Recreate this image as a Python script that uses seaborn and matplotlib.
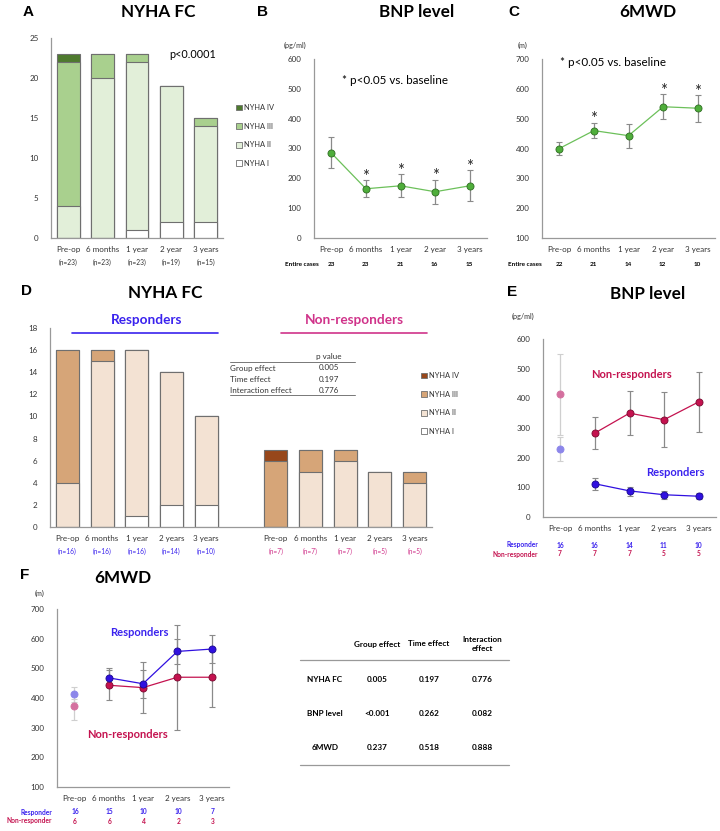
import numpy as np
import pandas as pd
import matplotlib
matplotlib.use("Agg")
import matplotlib.pyplot as plt
from matplotlib.patches import Patch
import seaborn as sns

# ---- data ----
times = ["Pre-op", "6 months", "1 year", "2 year", "3 years"]
times_s = ["Pre-op", "6 months", "1 year", "2 years", "3 years"]

# panel A: NYHA class counts (all patients)
a_n = ["(n=23)", "(n=23)", "(n=23)", "(n=19)", "(n=15)"]
a_nyha1 = [0, 0, 1, 2, 2]
a_nyha2 = [4, 20, 21, 17, 12]
a_nyha3 = [18, 3, 1, 0, 1]
a_nyha4 = [1, 0, 0, 0, 0]

# panel B: BNP (all patients)
b_mean = [285, 165, 175, 155, 175]
b_lo = [235, 137, 137, 113, 125]
b_hi = [337, 193, 213, 196, 227]
b_sig = [False, True, True, True, True]
b_cases = [23, 23, 21, 16, 15]

# panel C: 6MWD (all patients)
c_mean = [400, 460, 443, 540, 535]
c_lo = [378, 435, 403, 500, 490]
c_hi = [423, 487, 483, 583, 580]
c_sig = [False, True, False, True, True]
c_cases = [22, 21, 14, 12, 10]

# panel D: NYHA class counts, responders / non-responders
d_resp_n = ["(n=16)", "(n=16)", "(n=16)", "(n=14)", "(n=10)"]
d_resp1 = [0, 0, 1, 2, 2]
d_resp2 = [4, 15, 15, 12, 8]
d_resp3 = [12, 1, 0, 0, 0]
d_resp4 = [0, 0, 0, 0, 0]
d_non_n = ["(n=7)", "(n=7)", "(n=7)", "(n=5)", "(n=5)"]
d_non1 = [0, 0, 0, 0, 0]
d_non2 = [0, 5, 6, 5, 4]
d_non3 = [6, 2, 1, 0, 1]
d_non4 = [1, 0, 0, 0, 0]
d_pvals = [("Group effect", "0.005"), ("Time effect", "0.197"),
           ("Interaction effect", "0.776")]

# panel E: BNP by group
e_resp_mean = [230, 112, 88, 75, 70]
e_resp_lo = [190, 90, 72, 62, 60]
e_resp_hi = [270, 133, 102, 88, 80]
e_non_mean = [413, 283, 350, 328, 388]
e_non_lo = [277, 230, 277, 235, 288]
e_non_hi = [548, 337, 425, 420, 488]
e_resp_cases = [16, 16, 14, 11, 10]
e_non_cases = [7, 7, 7, 5, 5]

# panel F: 6MWD by group
f_resp_mean = [412, 468, 448, 557, 565]
f_resp_lo = [385, 438, 400, 514, 517]
f_resp_hi = [438, 500, 495, 600, 613]
f_non_mean = [372, 443, 435, 470, 470]
f_non_lo = [325, 393, 348, 293, 370]
f_non_hi = [398, 493, 520, 647, 570]
f_resp_cases = [16, 15, 10, 10, 7]
f_non_cases = [6, 6, 4, 2, 3]

# summary table
tbl_cols = ["Group effect", "Time effect", "Interaction\neffect"]
tbl_rows = ["NYHA FC", "BNP level", "6MWD"]
tbl_vals = [["0.005", "0.197", "0.776"],
            ["<0.001", "0.262", "0.082"],
            ["0.237", "0.518", "0.888"]]

# ---- style ----
sns.set_style("white")
plt.rcParams["font.family"] = ["Lato", "DejaVu Sans"]

W, H = 720, 831
fig = plt.figure(figsize=(W / 100, H / 100), dpi=100)

GREENS = ["#ffffff", "#e2efd9", "#a9d08e", "#4e7a2e"]
BROWNS = ["#ffffff", "#f3e2d3", "#d6a578", "#97471b"]
GREEN_PT, GREEN_EDGE, GREEN_LN = "#4fae3b", "#2f6d22", "#6cc05a"
BLUE, BLUE_LT = "#3010e0", "#8c86ea"
RED, RED_LT = "#c4124f", "#d4709f"
BLUE_TXT, PINK_TXT = "#3a22ee", "#d0338a"
SPINE = "#999999"
TXT = "#333333"
TICK = 5.8


def add_ax(x0, y0, x1, y1):
    return fig.add_axes([x0 / W, 1 - y1 / H, (x1 - x0) / W, (y1 - y0) / H])


def style_ax(ax):
    sns.despine(ax=ax)
    for s in ("left", "bottom"):
        ax.spines[s].set_color(SPINE)
        ax.spines[s].set_linewidth(0.9)
    ax.tick_params(axis="y", labelsize=TICK, colors=TXT, length=3,
                   width=0.7, color=SPINE, pad=6)
    ax.tick_params(axis="x", labelsize=TICK, colors=TXT)
    ax.set_xlabel("")
    ax.set_ylabel("")


def stacked(ax, keys, layers, colors, order):
    # draw cumulative totals from the top class down so the segments overlap
    cum = np.cumsum(np.array(layers), axis=0)
    for i in range(len(layers) - 1, -1, -1):
        df = pd.DataFrame({"k": keys, "v": cum[i]})
        sns.barplot(data=df, x="k", y="v", order=order, color=colors[i],
                    saturation=1, edgecolor="#6f6f6f", linewidth=0.8,
                    width=0.66, ax=ax)


def line_panel(ax, xs, mean, lo, hi, color, edge, lcolor, ecolor="#8a8a8a"):
    mean, lo, hi = np.array(mean), np.array(lo), np.array(hi)
    ax.errorbar(xs, mean, yerr=[mean - lo, hi - mean], fmt="none",
                ecolor=ecolor, elinewidth=0.9, capsize=2, capthick=0.8,
                zorder=2)
    if len(xs) > 1:
        sns.lineplot(x=xs, y=mean, color=lcolor, linewidth=0.9, ax=ax,
                     zorder=3)
    sns.scatterplot(x=xs, y=mean, color=color, edgecolor=edge, s=26,
                    linewidth=0.6, ax=ax, zorder=4)


def cat_xaxis(ax, labels):
    ax.set_xlim(-0.5, 4.5)
    ax.set_xticks(np.arange(-0.5, 5, 1.0))
    ax.set_xticklabels([])
    ax.tick_params(axis="x", which="major", length=3, width=0.7,
                   color=SPINE)
    ax.set_xticks(range(5), minor=True)
    ax.set_xticklabels(labels, minor=True)
    ax.tick_params(axis="x", which="minor", length=0, labelsize=TICK,
                   colors=TXT, pad=6)


def stars(ax, hi, sig):
    for i, s in enumerate(sig):
        if s:
            ax.annotate("*", (i, hi[i]), xytext=(0, 8),
                        textcoords="offset points", ha="center", va="top",
                        fontsize=12)


# overlay for free text in pixel coordinates
ov = fig.add_axes([0, 0, 1, 1], zorder=10)
ov.set_xlim(0, W)
ov.set_ylim(H, 0)
ov.axis("off")


def t(x, y, s, **kw):
    kw.setdefault("ha", "center")
    kw.setdefault("va", "center")
    kw.setdefault("color", "black")
    ov.text(x, y, s, **kw)


def letter(x, y, s):
    t(x, y, s, fontsize=11, fontweight="bold",
      family=["Liberation Sans", "DejaVu Sans"])


def title(x, y, s):
    t(x, y, s, fontsize=12.3, fontweight="bold")


def legend(colors, x, y):
    handles = [Patch(facecolor=colors[i], edgecolor="#6f6f6f", linewidth=0.6)
               for i in (3, 2, 1, 0)]
    fig.legend(handles, ["NYHA IV", "NYHA III", "NYHA II", "NYHA I"],
               loc="upper left", bbox_to_anchor=(x / W, 1 - y / H),
               frameon=False, fontsize=5.4, handlelength=0.8,
               handleheight=0.8, handletextpad=0.3, labelspacing=1.55,
               borderaxespad=0, labelcolor=TXT)


# ---- A ----
axA = add_ax(51, 38, 223, 238)
stacked(axA, times, [a_nyha1, a_nyha2, a_nyha3, a_nyha4], GREENS, times)
style_ax(axA)
axA.set_xlim(-0.5, 4.5)
axA.set_ylim(0, 25)
axA.set_yticks(range(0, 26, 5))
axA.tick_params(axis="x", length=0, pad=6)
for i, s in enumerate(a_n):
    t(68 + i * 34.4, 262, s, fontsize=4.8, color=TXT)
t(193, 55, "p<0.0001", fontsize=7.8)
letter(28, 12, "A")
title(158, 12, "NYHA FC")
legend(GREENS, 233, 101)

# ---- B ----
axB = add_ax(314, 59, 487, 238)
line_panel(axB, list(range(5)), b_mean, b_lo, b_hi, GREEN_PT, GREEN_EDGE,
           GREEN_LN)
style_ax(axB)
cat_xaxis(axB, times)
axB.set_ylim(0, 600)
axB.set_yticks(range(0, 601, 100))
stars(axB, b_hi, b_sig)
t(342, 80, "* p<0.05 vs. baseline", fontsize=8.4, ha="left")
t(295, 45, "(pg/ml)", fontsize=5.2, color=TXT)
t(302, 265, "Entire cases", fontsize=4.6, fontweight="bold")
for i, n in enumerate(b_cases):
    t(331 + i * 34.6, 265, str(n), fontsize=4.6, fontweight="bold")
letter(262, 12, "B")
title(417, 12, "BNP level")

# ---- C ----
axC = add_ax(542, 59, 715, 238)
line_panel(axC, list(range(5)), c_mean, c_lo, c_hi, GREEN_PT, GREEN_EDGE,
           GREEN_LN)
style_ax(axC)
cat_xaxis(axC, times)
axC.set_ylim(100, 700)
axC.set_yticks(range(100, 701, 100))
stars(axC, c_hi, c_sig)
t(560, 63, "* p<0.05 vs. baseline", fontsize=8.4, ha="left")
t(523, 45, "(m)", fontsize=5.2, color=TXT)
t(525, 265, "Entire cases", fontsize=4.6, fontweight="bold")
for i, n in enumerate(c_cases):
    t(559 + i * 34.6, 265, str(n), fontsize=4.6, fontweight="bold")
letter(514, 12, "C")
title(648, 12, "6MWD")

# ---- D ----
axD = add_ax(50, 328, 432, 527)
r_keys = ["R%d" % i for i in range(5)]
n_keys = ["N%d" % i for i in range(5)]
d_order = r_keys + ["gap"] + n_keys
d_layers = [a + b for a, b in zip([d_resp1, d_resp2, d_resp3, d_resp4],
                                  [d_non1, d_non2, d_non3, d_non4])]
stacked(axD, r_keys + n_keys, d_layers, BROWNS, d_order)
style_ax(axD)
axD.set_xlim(-0.5, 10.5)
axD.set_ylim(0, 18)
axD.set_yticks(range(0, 19, 2))
axD.set_xticks(range(11))
axD.set_xticklabels(times_s + [""] + times_s)
axD.tick_params(axis="x", length=0, pad=6)
slot = (432 - 50) / 11
for i in range(5):
    t(50 + slot * (i + 0.5), 551, d_resp_n[i], fontsize=4.8, color=BLUE_TXT)
    t(50 + slot * (i + 6.5), 551, d_non_n[i], fontsize=4.8, color=PINK_TXT)
t(147, 320, "Responders", fontsize=9.8, fontweight="bold", color=BLUE_TXT)
ov.plot([72, 218], [333, 333], color=BLUE_TXT, lw=1.2)
t(354, 320, "Non-responders", fontsize=9.8, fontweight="bold",
  color=PINK_TXT)
ov.plot([281, 427], [333, 333], color=PINK_TXT, lw=1.2)
t(329, 357, "p value", fontsize=5.8, color=TXT)
ov.plot([230, 355], [362, 362], color="#777777", lw=0.7)
for j, (lab, val) in enumerate(d_pvals):
    t(230, 368 + j * 11.3, lab, fontsize=5.8, ha="left", color=TXT)
    t(319, 368 + j * 11.3, val, fontsize=5.8, ha="left", color=TXT)
ov.plot([230, 355], [395, 395], color="#777777", lw=0.7)
legend(BROWNS, 418, 369)
letter(27, 291, "D")
title(165, 293, "NYHA FC")

# ---- E ----
axE = add_ax(543, 339, 716, 517)
line_panel(axE, [0], e_non_mean[:1], e_non_lo[:1], e_non_hi[:1], RED_LT,
           RED_LT, RED_LT, ecolor="#cfcfcf")
line_panel(axE, [0], e_resp_mean[:1], e_resp_lo[:1], e_resp_hi[:1],
           BLUE_LT, BLUE_LT, BLUE_LT, ecolor="#cfcfcf")
line_panel(axE, [1, 2, 3, 4], e_non_mean[1:], e_non_lo[1:], e_non_hi[1:],
           RED, "#7a0a30", RED)
line_panel(axE, [1, 2, 3, 4], e_resp_mean[1:], e_resp_lo[1:],
           e_resp_hi[1:], BLUE, "#1a0890", BLUE)
style_ax(axE)
cat_xaxis(axE, times_s)
axE.set_ylim(0, 600)
axE.set_yticks(range(0, 601, 100))
t(632, 374, "Non-responders", fontsize=8, fontweight="bold", color=RED)
t(675, 473, "Responders", fontsize=8, fontweight="bold", color=BLUE_TXT)
t(523, 316, "(pg/ml)", fontsize=5.2, color=TXT)
t(538, 545, "Responder", fontsize=4.8, fontweight="bold", color=BLUE_TXT,
  ha="right")
t(538, 554, "Non-responder", fontsize=4.8, fontweight="bold", color=RED,
  ha="right")
for i in range(5):
    t(560 + i * 34.6, 545, str(e_resp_cases[i]), fontsize=4.8,
      fontweight="bold", color=BLUE_TXT)
    t(560 + i * 34.6, 554, str(e_non_cases[i]), fontsize=4.8,
      fontweight="bold", color=RED)
letter(512, 292, "E")
title(648, 294, "BNP level")

# ---- F ----
axF = add_ax(57, 609, 229, 787)
line_panel(axF, [0], f_resp_mean[:1], f_resp_lo[:1], f_resp_hi[:1],
           BLUE_LT, BLUE_LT, BLUE_LT, ecolor="#cfcfcf")
line_panel(axF, [0], f_non_mean[:1], f_non_lo[:1], f_non_hi[:1], RED_LT,
           RED_LT, RED_LT, ecolor="#cfcfcf")
line_panel(axF, [1, 2, 3, 4], f_non_mean[1:], f_non_lo[1:], f_non_hi[1:],
           RED, "#7a0a30", RED)
line_panel(axF, [1, 2, 3, 4], f_resp_mean[1:], f_resp_lo[1:],
           f_resp_hi[1:], BLUE, "#1a0890", BLUE)
style_ax(axF)
cat_xaxis(axF, times_s)
axF.set_ylim(100, 700)
axF.set_yticks(range(100, 701, 100))
t(139, 633, "Responders", fontsize=8, fontweight="bold", color=BLUE_TXT)
t(128, 735, "Non-responders", fontsize=8, fontweight="bold", color=RED)
t(40, 593, "(m)", fontsize=5.2, color=TXT)
t(52, 812, "Responder", fontsize=4.8, fontweight="bold", color=BLUE_TXT,
  ha="right")
t(52, 821, "Non-responder", fontsize=4.8, fontweight="bold", color=RED,
  ha="right")
for i in range(5):
    t(75 + i * 34.4, 812, str(f_resp_cases[i]), fontsize=4.8,
      fontweight="bold", color=BLUE_TXT)
    t(75 + i * 34.4, 821, str(f_non_cases[i]), fontsize=4.8,
      fontweight="bold", color=RED)
letter(25, 575, "F")
title(123, 578, "6MWD")

# ---- summary table ----
col_x = [377, 429, 482]
for x, c in zip(col_x, tbl_cols):
    t(x, 644, c, fontsize=5.9, fontweight="bold", linespacing=1.3)
ov.plot([300, 509], [660, 660], color="#999999", lw=0.9)
for r, (lab, vals) in enumerate(zip(tbl_rows, tbl_vals)):
    y = 679 + r * 34.5
    t(325, y, lab, fontsize=5.9, fontweight="bold")
    for x, v in zip(col_x, vals):
        t(x, y, v, fontsize=5.9, fontweight="bold")
ov.plot([300, 509], [765, 765], color="#999999", lw=0.9)

fig.savefig("out.png", dpi=100)
